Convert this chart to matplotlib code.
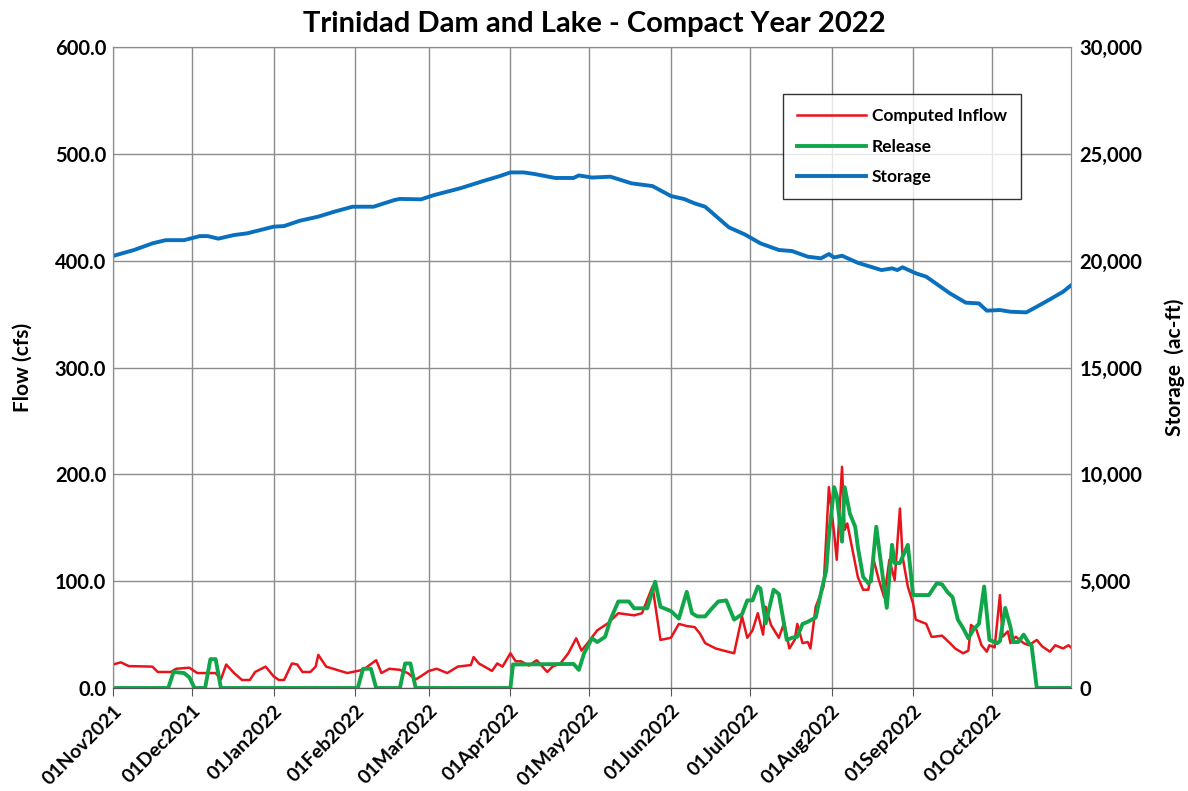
import pandas as pd
import matplotlib
matplotlib.use("Agg")
import matplotlib.pyplot as plt
import matplotlib.dates as mdates
from matplotlib.ticker import FuncFormatter, MultipleLocator

plt.rcParams['font.family'] = ['Lato', 'DejaVu Sans']
plt.rcParams['font.weight'] = 'bold'

# Datos (dias desde 01Nov2021)
start = pd.Timestamp("2021-11-01")

inflow_days = [0, 3, 6, 15, 17, 22, 24, 29, 32, 39, 41, 43, 46, 49, 52, 54, 58, 61, 63, 65,
               68, 70, 72, 75, 77, 78, 81, 85, 89, 93, 95, 100, 102, 105, 109, 112, 115, 117,
               120, 123, 127, 131, 136, 137, 139, 144, 146, 148, 151, 153, 155, 158, 161, 165,
               167, 170, 173, 176, 178, 180, 184, 188, 192, 198, 201, 205, 208, 212, 215, 218,
               221, 223, 225, 229, 232, 236, 239, 241, 243, 245, 247, 248, 250, 253, 255, 257,
               259, 260, 262, 264, 265, 267, 270, 272, 274, 275, 277, 278, 279, 281, 283, 285,
               287, 289, 291, 293, 295, 297, 299, 300, 302, 304, 305, 307, 309, 311, 312, 315,
               318, 320, 323, 325, 326, 328, 330, 332, 333, 335, 337, 338, 340, 341, 343, 346,
               348, 351, 353, 356, 358, 361, 363, 364]
inflow = [22, 24, 20.5, 20, 15, 15, 18, 19, 14, 14, 8, 22, 14, 7.5, 7.5, 15, 20, 11, 7.5, 7.5,
          23, 22, 15, 15, 20, 31, 20, 17, 14, 16, 17, 26, 14, 18, 17, 14, 8, 11,
          16, 18, 14, 20, 21.5, 29, 23, 16, 23, 20, 32.5, 25, 25, 21, 26, 15,
          20, 23, 32.5, 46.5, 35, 41, 54, 60.5, 70, 68, 70, 95, 45, 47, 60, 58,
          57, 51, 42, 37, 35, 32.5, 67, 47, 54, 70, 50, 76, 59, 47, 61, 37,
          45, 60, 42, 43, 37, 76, 95, 188, 145, 120, 207, 148, 154, 129, 104, 92,
          92, 120, 101, 85, 120, 101, 168, 123, 95, 79, 64, 62, 60, 48, 48, 49,
          42, 37, 32.5, 35, 59, 55, 40, 34, 40, 38, 87, 48, 53, 42, 48, 42,
          40, 45, 39, 34, 40, 37, 40, 38]

release_days = [0, 21, 23, 27, 29, 31, 35, 37, 39, 41, 93, 95, 98, 100, 109, 111, 113, 115,
                151, 152, 175, 177, 179, 182, 184, 187, 189, 192, 196, 198, 203, 206, 208,
                212, 215, 218, 220, 222, 225, 227, 230, 233, 236, 239, 241, 243, 245, 246,
                248, 251, 253, 256, 258, 260, 262, 264, 267, 269, 271, 272, 274, 275, 277,
                278, 280, 282, 283, 285, 287, 288, 290, 292, 294, 296, 297, 299, 302, 304,
                307, 310, 313, 315, 317, 319, 321, 323, 325, 327, 329, 331, 333, 336, 337,
                339, 341, 342, 344, 346, 348, 349, 351, 364]
release = [0, 0, 15, 14, 10, 0, 0, 27, 27, 0, 0, 18, 18, 0, 0, 23, 23, 0,
           0, 22, 22.5, 17, 32.5, 46.5, 43, 48, 64, 81, 81, 74.6, 74.6, 99.5, 76,
           72, 65, 90, 70, 67, 67, 73, 81, 82, 64, 69, 82, 82, 95, 93,
           60.5, 92, 88, 45, 47, 48, 60, 62, 66, 89, 110, 142, 188, 180, 137,
           188, 163, 151, 132, 104, 98, 100, 151, 113, 75, 134, 117, 117, 134, 87,
           87, 87, 98, 97, 90, 85, 64, 56, 46.5, 55, 60, 95, 45, 42, 44,
           75, 57, 43, 43, 50, 42, 40, 0, 0]

storage_days = [0, 8, 15, 20, 27, 33, 36, 40, 46, 51, 61, 65, 71, 78, 84, 91, 99, 107, 109,
                117, 122, 132, 141, 147, 151, 156, 160, 168, 175, 177, 182, 189, 197, 205,
                212, 217, 221, 225, 234, 240, 246, 253, 258, 264, 269, 272, 274, 277, 283,
                292, 296, 298, 300, 305, 309, 318, 324, 329, 332, 337, 341, 347, 351, 356,
                361, 364]
storage = [20220, 20500, 20810, 20960, 20960, 21150, 21150, 21030, 21200, 21280, 21590, 21620,
           21870, 22060, 22290, 22525, 22525, 22840, 22890, 22870, 23070, 23390, 23740, 23960,
           24130, 24130, 24060, 23870, 23870, 23990, 23890, 23930, 23620, 23490, 23025, 22885,
           22680, 22525, 21560, 21230, 20810, 20500, 20450, 20185, 20110, 20310, 20150, 20230,
           19900, 19560, 19640, 19560, 19690, 19410, 19250, 18470, 18035, 18000, 17660, 17690,
           17610, 17580, 17845, 18190, 18547, 18845]

inflow_dates = start + pd.to_timedelta(inflow_days, unit="D")
release_dates = start + pd.to_timedelta(release_days, unit="D")
storage_dates = start + pd.to_timedelta(storage_days, unit="D")

# Grafico
fig = plt.figure(figsize=(11.88, 7.91), dpi=100)
ax = fig.add_axes([113 / 1188, 1 - 688 / 791, (1071 - 113) / 1188, (688 - 47) / 791])
ax2 = ax.twinx()

l1, = ax.plot(inflow_dates, inflow, color='#E8141B', lw=1.8, label='Computed Inflow')
l2, = ax.plot(release_dates, release, color='#12A64B', lw=2.8, label='Release')
l3, = ax2.plot(storage_dates, storage, color='#0A70BE', lw=2.8, label='Storage')

ax.set_xlim(start, pd.Timestamp("2022-10-31"))
ax.set_ylim(0, 600)
ax2.set_ylim(0, 30000)
ax.yaxis.set_major_locator(MultipleLocator(100))
ax2.yaxis.set_major_locator(MultipleLocator(5000))
ax.yaxis.set_major_formatter(FuncFormatter(lambda v, p: f"{v:.1f}"))
ax2.yaxis.set_major_formatter(FuncFormatter(lambda v, p: f"{v:,.0f}"))

ax.xaxis.set_major_locator(mdates.MonthLocator(bymonthday=1))
ax.xaxis.set_major_formatter(mdates.DateFormatter("%d%b%Y"))
for lab in ax.get_xticklabels():
    lab.set_rotation(45)
    lab.set_ha('right')
    lab.set_rotation_mode('anchor')

ax.grid(True, color='#8c8c8c', lw=1.0)
ax.set_axisbelow(True)
ax.tick_params(axis='x', direction='out', length=6, color='#555555', labelsize=14, pad=4)
ax.tick_params(axis='y', length=0, labelsize=14.5, pad=5)
ax2.tick_params(axis='y', length=0, labelsize=14.5, pad=6)
for a in (ax, ax2):
    for s in a.spines.values():
        s.set_color('#8c8c8c')
    a.spines['bottom'].set_color('#555555')

ax.set_ylabel("Flow (cfs)", fontsize=15, fontweight='bold', labelpad=16)
ax2.set_ylabel("Storage  (ac-ft)", fontsize=15, fontweight='bold', labelpad=16)
fig.suptitle("Trinidad Dam and Lake - Compact Year 2022", fontsize=21, fontweight='bold', y=0.986)

leg = ax2.legend(handles=[l1, l2, l3], loc='upper left',
                 bbox_to_anchor=(783 / 1188, 1 - 94 / 791), bbox_transform=fig.transFigure,
                 fontsize=12.5, frameon=True, fancybox=False, edgecolor='black',
                 handlelength=4.0, labelspacing=0.85, borderpad=0.8, handletextpad=0.3,
                 borderaxespad=0)
leg.get_frame().set_linewidth(1.0)
for t in leg.get_texts():
    t.set_fontweight('bold')

fig.savefig("out.png", dpi=100)
